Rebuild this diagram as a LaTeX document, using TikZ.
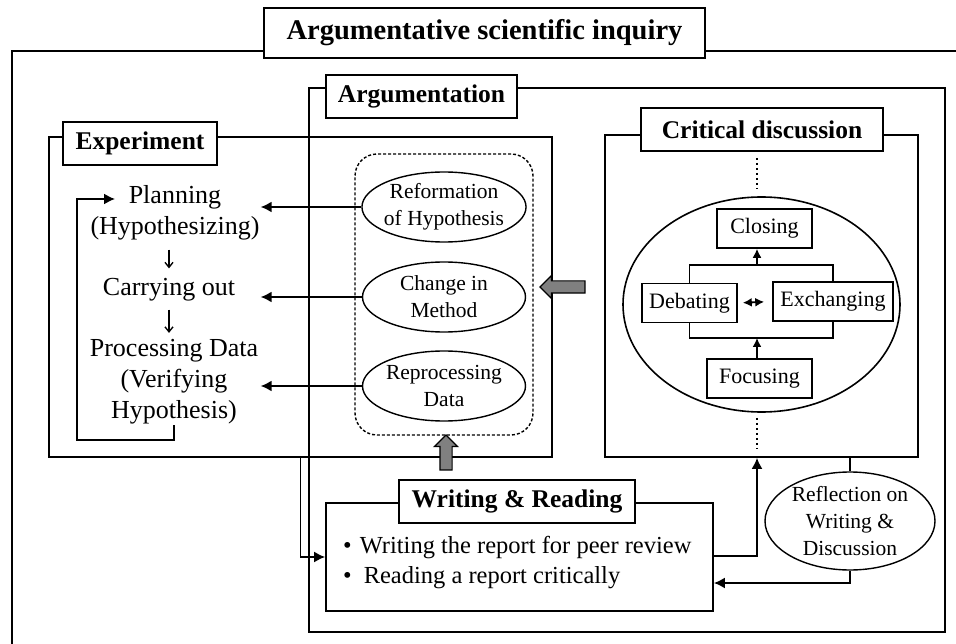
\documentclass[tikz,border=0pt]{standalone}
\usepackage{fontspec}
\setmainfont{Liberation Serif}
\usetikzlibrary{arrows.meta,shapes.geometric,shapes.arrows}

\tikzset{
  frame/.style={draw, line width=1.8pt, inner sep=0pt},
  ttl/.style={draw, fill=white, line width=1.8pt, inner sep=0pt, minimum height=43pt,
    font=\bfseries\fontsize{25.5}{30}\selectfont},
  stage/.style={align=center, inner sep=1pt, font=\fontsize{26}{31}\selectfont},
  oval/.style={draw, ellipse, line width=1.4pt, inner sep=0pt, inner xsep=-2pt,
    minimum width=163pt, minimum height=70pt, align=center, font=\fontsize{21.5}{27}\selectfont},
  phase/.style={draw, line width=1.6pt, inner sep=0pt, minimum height=39pt,
    font=\fontsize{22}{26}\selectfont},
  arr/.style={line width=1.6pt, -{Latex[length=11pt,width=11pt]}},
  thinarr/.style={line width=1.3pt, -{Straight Barb[length=5pt,width=8pt]}},
  bigarr/.style={draw, fill=gray, line width=1.2pt, single arrow, single arrow head extend=5.5pt,
    inner sep=0pt, inner ysep=5.5pt},
  dots/.style={line width=2pt, dash pattern=on 2pt off 3pt},
}

\begin{document}
\begin{tikzpicture}[x=1pt,y=-1pt]
\useasboundingbox (0,0) rectangle (956,644);

% frames
\draw[line width=1.8pt] (12,644) |- (956,51);
\node[frame, minimum width=636pt, minimum height=544pt] (argframe) at (627,360) {};
\node[frame, minimum width=503pt, minimum height=320pt] (expframe) at (300.5,297) {};
\node[frame, minimum width=313pt, minimum height=322pt] (critframe) at (761.5,296) {};
\node[frame, minimum width=387pt, minimum height=108pt] (wrframe) at (519.5,557) {};

% titles
\node[ttl, minimum width=441pt, minimum height=50pt, font=\bfseries\fontsize{28.5}{34}\selectfont]
  (mainttl) at (484.5,33) {Argumentative scientific inquiry};
\node[ttl, minimum width=191pt] (argttl) at (421.5,96.5) {Argumentation};
\node[ttl, minimum width=154pt] (expttl) at (140,143.5) {Experiment};
\node[ttl, minimum width=242pt] (critttl) at (762,129.5) {Critical discussion};
\node[ttl, minimum width=236pt] (wrttl) at (517,501.5) {Writing \& Reading};

% experiment
\node[stage] (plan) at (175,212.5) {Planning\\(Hypothesizing)};
\node[stage] (carry) at (169,290) {Carrying out};
\node[stage] (proc) at (174,381.5) {Processing Data\\(Verifying\\Hypothesis)};
\draw[thinarr, shorten <=8.5pt, shorten >=9pt] (carry.north |- plan.south) -- (carry.north);
\draw[thinarr, shorten <=7pt, shorten >=5pt] (carry.south) -- (carry.south |- proc.north);
\coordinate (loopbl) at (77,440);
\coordinate (plantip) at (115,199);
\draw[arr] (proc.south) -- (proc.south |- loopbl) -- (loopbl) |- (plantip);

% argumentation outcomes
\node[draw, dash pattern=on 3pt off 2pt, line width=1.4pt, rounded corners=22pt,
  minimum width=178pt, minimum height=281pt] (pool) at (444,294.5) {};
\node[oval] (reform) at (444,207) {Reformation\\of Hypothesis};
\node[oval] (change) at (444,297) {Change in\\Method};
\node[oval] (reproc) at (444,386) {Reprocessing\\Data};
\draw[arr] (reform.west) -- (reform.west -| plan.east);
\draw[arr] (change.west) -- (change.west -| plan.east);
\draw[arr] (reproc.west) -- (reproc.west -| plan.east);

\node[bigarr, rotate=180, minimum height=45pt] (leftarr) at (565.5,287) {};
\node[bigarr, rotate=90, minimum height=35pt] (uparr) at (446,455.5) {};

% critical discussion
\coordinate (axis) at (757,0);
\node[draw, ellipse, line width=1.6pt, minimum width=277pt, minimum height=215pt] (cycle) at (761.5,304.5) {};
\node[phase, minimum width=95pt] (closing) at (764.5,228.5) {Closing};
\node[phase, minimum width=95pt] (debate) at (689.5,303) {Debating};
\node[phase, minimum width=120pt] (exch) at (833,301.5) {Exchanging};
\node[phase, minimum width=105pt] (focus) at (759.5,378.5) {Focusing};
\coordinate (upbar) at (757,265);
\coordinate (lowbar) at (757,338);
\draw[line width=1.6pt] (debate.north) |- (upbar) -| (exch.north);
\draw[line width=1.6pt] (debate.south) |- (lowbar) -| (exch.south);
\draw[arr, -{Latex[length=9pt,width=9pt]}] (upbar) -- (upbar |- closing.south);
\draw[arr, -{Latex[length=9pt,width=9pt]}] (focus.north -| lowbar) -- (lowbar);
\draw[line width=1.8pt, {Latex[length=9pt,width=9pt]}-{Latex[length=9pt,width=9pt]},
  shorten <=5pt, shorten >=8pt] (debate.east) -- (exch.west);
\draw[dots, shorten <=6pt, shorten >=8pt] (critttl.south -| axis) -- (cycle.north -| axis);
\draw[dots, shorten <=5pt, shorten >=9pt] (cycle.south -| axis) -- (critframe.south -| axis);

% writing and reading
\node[anchor=west, align=left, inner sep=0pt, font=\fontsize{24.5}{30}\selectfont] (tasks) at (343,563)
  {\textbullet\hspace{8pt}Writing the report for peer review\\\textbullet\hspace{12pt}Reading a report critically};
\node[oval, inner ysep=-4pt, minimum width=170pt, minimum height=98pt] (refl) at (850,521)
  {Reflection on\\Writing \&\\Discussion};
\draw[line width=1.6pt] (critframe.south -| refl.north) -- (refl.north);
\draw[arr] (refl.south) |- ([yshift=-26pt]wrframe.east);
\draw[arr] ([yshift=1pt]wrframe.east) -| (critframe.south -| axis);
\draw[arr] (expframe.south) |- (wrframe.west);
\end{tikzpicture}
\end{document}
